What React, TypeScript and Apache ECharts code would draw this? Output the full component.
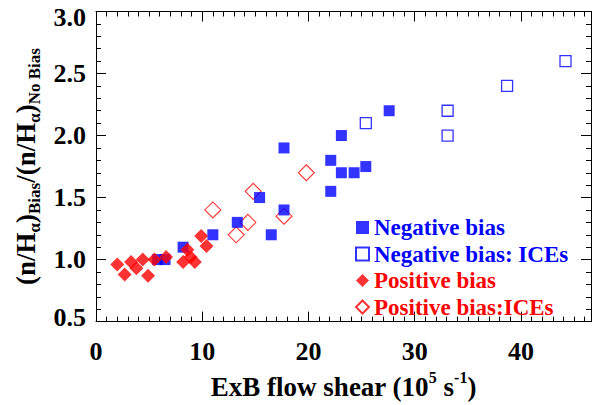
import React, { useEffect, useRef } from "react";
import * as echarts from "echarts";

// Negative bias (filled blue squares)
const negX = [5.8, 6.5, 8.2, 11.0, 13.3, 15.4, 16.5, 17.7, 17.7, 22.1, 22.1, 23.1, 23.1, 24.3, 25.4, 27.6];
const negY = [1.0, 1.0, 1.1, 1.2, 1.3, 1.5, 1.2, 1.4, 1.9, 1.55, 1.8, 2.0, 1.7, 1.7, 1.75, 2.2];
// Negative bias: ICEs (open blue squares)
const negIceX = [25.4, 33.1, 33.1, 38.7, 44.2];
const negIceY = [2.1, 2.2, 2.0, 2.4, 2.6];
// Positive bias (filled red diamonds)
const posX = [2.0, 2.7, 3.3, 3.8, 4.4, 4.9, 5.5, 6.6, 8.2, 8.6, 8.9, 9.3, 9.9, 10.4];
const posY = [0.96, 0.88, 0.98, 0.93, 1.0, 0.87, 1.0, 1.02, 0.98, 1.08, 1.02, 0.98, 1.19, 1.11];
// Positive bias:ICEs (open red diamonds)
const posIceX = [11.0, 13.2, 14.3, 14.8, 17.7, 19.8];
const posIceY = [1.4, 1.2, 1.3, 1.55, 1.35, 1.7];

const seriesNames = ["Negative bias", "Negative bias: ICEs", "Positive bias", "Positive bias:ICEs"];
const xRange = [0, 46.6];
const yRange = [0.5, 3.0];

const FONT = "Times New Roman, Liberation Serif, serif";
const BLUE = "#0000ff";
const RED = "#ff0000";

const zip = (xs: number[], ys: number[]) => xs.map((x, i) => [x, ys[i]]);

export default function App() {
  const ref = useRef<HTMLDivElement>(null);
  useEffect(() => {
    document.body.style.margin = "0";
    const chart = echarts.init(ref.current!, null, { renderer: "svg" });
    const tickCommon = {
      axisLine: { show: true, onZero: false, lineStyle: { color: "#000", width: 1 } },
      axisTick: { show: true, inside: true, length: 10, lineStyle: { color: "#000", width: 1 } },
      splitLine: { show: false },
    };
    const rich = {
      m: { fontSize: 27, fontFamily: FONT, fontWeight: "bold", color: "#000", lineHeight: 34 },
      sub: { fontSize: 17, fontFamily: FONT, fontWeight: "bold", color: "#000", verticalAlign: "bottom", lineHeight: 14 },
      sup: { fontSize: 16, fontFamily: FONT, fontWeight: "bold", color: "#000", verticalAlign: "top", lineHeight: 14 },
    };
    const option: any = {
      animation: false,
      backgroundColor: "#fff",
      textStyle: { fontFamily: FONT },
      grid: { left: 96, right: 2, top: 11.5, bottom: 73.5, containLabel: false },
      legend: {
        orient: "vertical",
        left: 355,
        top: 216,
        padding: 0,
        itemGap: 3.5,
        itemWidth: 13,
        itemHeight: 13,
        selectedMode: false,
        textStyle: { fontFamily: FONT, fontWeight: "bold", fontSize: 23 },
        data: [
          { name: seriesNames[0], textStyle: { color: BLUE, fontFamily: FONT, fontWeight: "bold", fontSize: 23 } },
          { name: seriesNames[1], textStyle: { color: BLUE, fontFamily: FONT, fontWeight: "bold", fontSize: 23 } },
          { name: seriesNames[2], textStyle: { color: RED, fontFamily: FONT, fontWeight: "bold", fontSize: 23 } },
          { name: seriesNames[3], textStyle: { color: RED, fontFamily: FONT, fontWeight: "bold", fontSize: 23 } },
        ],
      },
      xAxis: [
        {
          type: "value",
          position: "bottom",
          min: xRange[0],
          max: xRange[1],
          interval: 10,
          ...tickCommon,
          minorTick: { show: true, splitNumber: 10, length: 5, lineStyle: { color: "#000" } },
          axisLabel: {
            show: true,
            margin: 17,
            showMaxLabel: false,
            fontFamily: FONT,
            fontWeight: "bold",
            fontSize: 26,
            color: "#000",
          },
          name: "{m|ExB flow shear (10}{sup|5}{m| s}{sup|-1}{m|)}",
          nameLocation: "middle",
          nameGap: 37,
          nameTextStyle: { rich },
        },
        {
          type: "value",
          position: "top",
          min: xRange[0],
          max: xRange[1],
          interval: 10,
          ...tickCommon,
          minorTick: { show: true, splitNumber: 10, length: 5, lineStyle: { color: "#000" } },
          axisLabel: { show: false },
        },
      ],
      yAxis: [
        {
          type: "value",
          position: "left",
          min: yRange[0],
          max: yRange[1],
          interval: 0.5,
          ...tickCommon,
          minorTick: { show: true, splitNumber: 5, length: 5, lineStyle: { color: "#000" } },
          axisLabel: {
            show: true,
            margin: 10,
            fontFamily: FONT,
            fontWeight: "bold",
            fontSize: 26,
            color: "#000",
            formatter: (v: number) =>
              v === yRange[1] ? `{hi|${v.toFixed(1)}}` : v === yRange[0] ? `{lo|${v.toFixed(1)}}` : v.toFixed(1),
            rich: {
              hi: { fontFamily: FONT, fontWeight: "bold", fontSize: 26, color: "#000", padding: [12, 0, 0, 0] },
              lo: { fontFamily: FONT, fontWeight: "bold", fontSize: 26, color: "#000", padding: [0, 0, 8, 0] },
            },
          },
          name: "{m|(n/H}{sub|α}{m|)}{sub|Bias}{m|/(n/H}{sub|α}{m|)}{sub|No Bias}",
          nameLocation: "middle",
          nameRotate: 90,
          nameGap: 52,
          nameTextStyle: { rich },
        },
        {
          type: "value",
          position: "right",
          min: yRange[0],
          max: yRange[1],
          interval: 0.5,
          ...tickCommon,
          minorTick: { show: true, splitNumber: 5, length: 5, lineStyle: { color: "#000" } },
          axisLabel: { show: false },
        },
      ],
      series: [
        {
          name: seriesNames[3],
          type: "scatter",
          z: 2,
          data: zip(posIceX, posIceY),
          symbol: "diamond",
          symbolSize: 16,
          itemStyle: { color: "rgba(255,255,255,0)", borderColor: RED, borderWidth: 1.1 },
        },
        {
          name: seriesNames[1],
          type: "scatter",
          z: 2,
          data: zip(negIceX, negIceY),
          symbol: "rect",
          symbolSize: 11,
          itemStyle: { color: "rgba(255,255,255,0)", borderColor: BLUE, borderWidth: 1.3 },
        },
        {
          name: seriesNames[0],
          type: "scatter",
          z: 3,
          data: zip(negX, negY),
          symbol: "rect",
          symbolSize: 11,
          itemStyle: { color: BLUE },
        },
        {
          name: seriesNames[2],
          type: "scatter",
          z: 4,
          data: zip(posX, posY),
          symbol: "diamond",
          symbolSize: 14,
          itemStyle: { color: RED },
        },
      ],
    };
    chart.setOption(option);
    return () => chart.dispose();
  }, []);
  return <div ref={ref} style={{ width: 593, height: 405 }} />;
}
